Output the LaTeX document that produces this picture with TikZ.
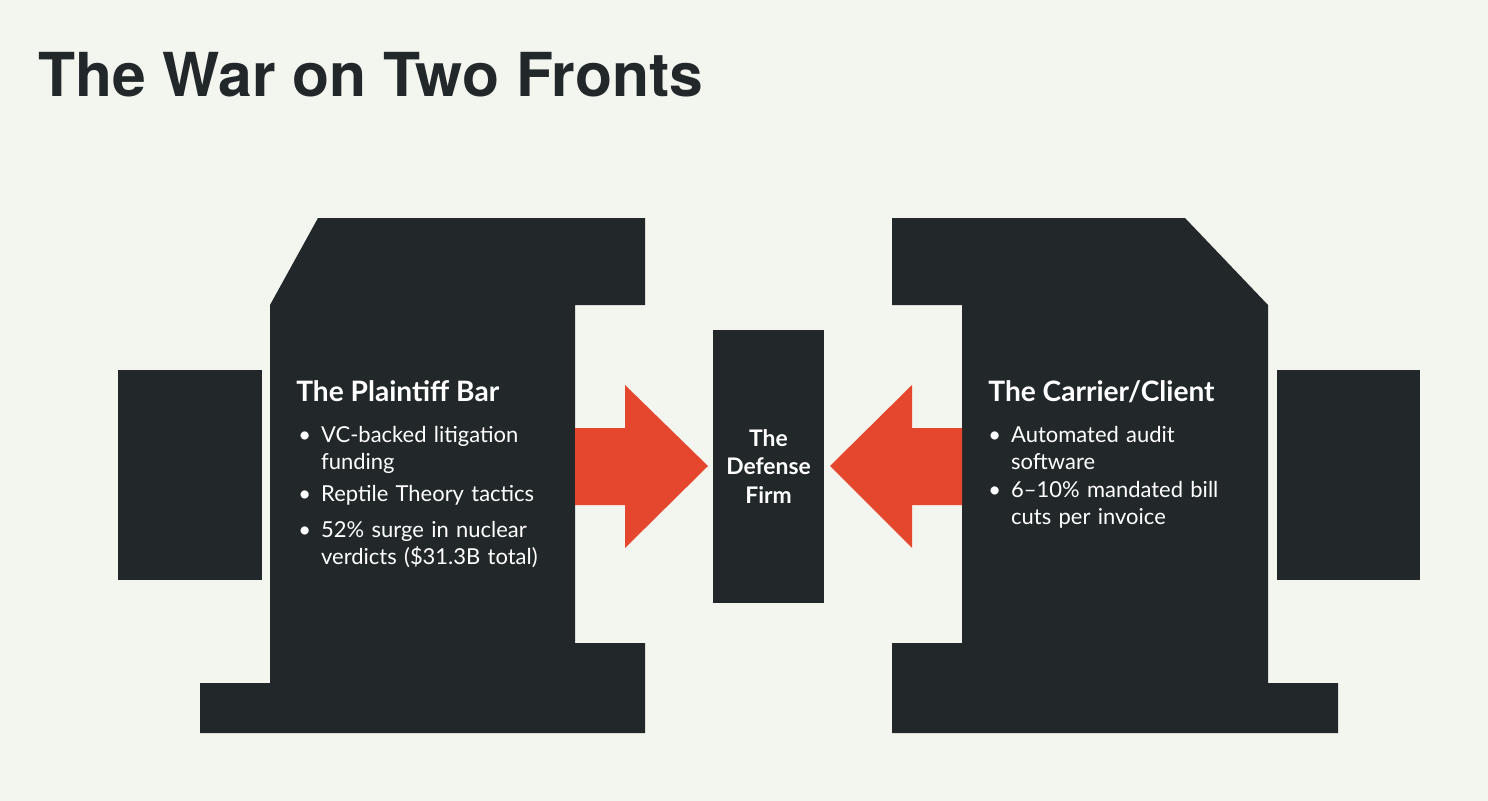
\documentclass[tikz,border=0pt]{standalone}
\usepackage{fontspec}
\setmainfont{Lato}
\newfontfamily\titlefont{TeX Gyre Heros}
\definecolor{paper}{HTML}{F3F5EF}
\definecolor{ink}{HTML}{22282A}
\definecolor{alarm}{HTML}{E5472E}
\newcommand\bulletpt[1]{\makebox[13pt][l]{•}\parbox[t]{5cm}{\raggedright #1}\par\vspace{5.5pt}}
\begin{document}
\begin{tikzpicture}[x=0.02cm,y=-0.02cm,
  block/.style={fill=ink},
  push/.style={fill=alarm},
  head/.style={text=white,font=\bfseries\fontsize{16}{19}\selectfont,anchor=north west,inner sep=0pt},
  points/.style={text=white,font=\fontsize{12.5}{15.3}\selectfont,anchor=north west,text width=5.6cm,inner sep=0pt}]
%background
\fill[paper] (0,0) rectangle (1488,801);
\node[anchor=west,font=\titlefont\bfseries\fontsize{34.5}{40}\selectfont,text=ink,inner sep=0pt] (title) at (38,75) {The War on Two Fronts};

%left front
\fill[block] (318,218) -- (645,218) -- (645,305) -- (575,305) -- (575,643) -- (645,643) -- (645,733) -- (200,733) -- (200,683) -- (270,683) -- (270,305) -- cycle;
\fill[block] (118,370) rectangle (262,580);
%right front
\fill[block] (892,218) -- (1185,218) -- (1268,305) -- (1268,683) -- (1338,683) -- (1338,733) -- (892,733) -- (892,643) -- (962,643) -- (962,305) -- (892,305) -- cycle;
\fill[block] (1277,370) rectangle (1420,580);
%centre
\node[block,minimum width=2.22cm,minimum height=5.46cm,inner sep=0pt,text=white,align=center,
  font=\bfseries\fontsize{13}{16}\selectfont] (firm) at (768.5,466.5) {The\\Defense\\Firm};
%arrows
\fill[push] (575,428) -- (625,428) -- (625,385) -- (708,466) -- (625,548) -- (625,505) -- (575,505) -- cycle;
\fill[push] (962,428) -- (912,428) -- (912,385) -- (830,466) -- (912,548) -- (912,505) -- (962,505) -- cycle;

%texts
\node[head] (plaintiff) at (296,380) {The Plaintiff Bar};
\node[points] (plaintiffpts) at (298,426) {\bulletpt{VC-backed litigation\\funding}\bulletpt{Reptile Theory tactics}\bulletpt{52\% surge in nuclear\\verdicts (\$31.3B total)}};
\node[head] (carrier) at (988,380) {The Carrier/Client};
\node[points] (carrierpts) at (988,426) {\bulletpt{Automated audit\\software}\bulletpt{6--10\% mandated bill\\cuts per invoice}};
\end{tikzpicture}
\end{document}
